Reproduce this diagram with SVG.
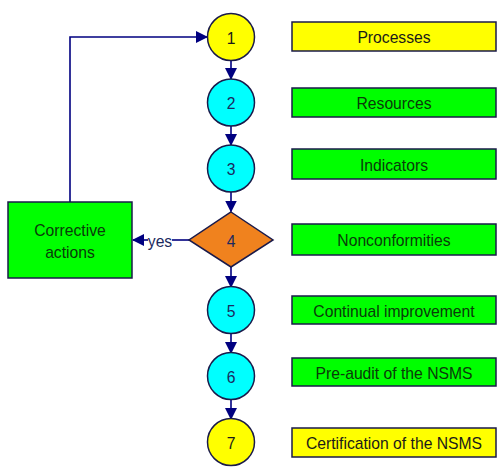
<svg xmlns="http://www.w3.org/2000/svg" width="503" height="473" viewBox="0 0 503 473">
<defs>
<marker id="ah" markerWidth="12" markerHeight="12" refX="11" refY="6" orient="auto" markerUnits="userSpaceOnUse">
<path d="M0,0 L12,6 L0,12 Z" fill="#000080"/>
</marker>
<style>
.c{stroke:#1a1a4a;stroke-width:1.5}
.y{fill:#ffff00}
.b{fill:#00ffff}
.g{fill:#00ff00}
.o{fill:#f0821e}
.t{font-family:"Liberation Sans",Arial,sans-serif;font-size:15.7px;text-anchor:middle;dominant-baseline:central;fill:#1a1a1a}
.gt{fill:#0a3a0a}
.n{font-family:"Liberation Sans",Arial,sans-serif;font-size:15.7px;text-anchor:middle;dominant-baseline:central;fill:#1a2a60}
.l{fill:none;stroke:#000080;stroke-width:1.6}
</style>
</defs>
<rect width="503" height="473" fill="#ffffff"/>
<g id="connectors">
<line class="l" x1="231" y1="60" x2="231" y2="79" marker-end="url(#ah)"/>
<line class="l" x1="231" y1="126" x2="231" y2="145" marker-end="url(#ah)"/>
<line class="l" x1="231" y1="192" x2="231" y2="211.5" marker-end="url(#ah)"/>
<line class="l" x1="231" y1="267" x2="231" y2="287" marker-end="url(#ah)"/>
<line class="l" x1="231" y1="333" x2="231" y2="353" marker-end="url(#ah)"/>
<line class="l" x1="231" y1="399" x2="231" y2="419" marker-end="url(#ah)"/>
<line class="l" x1="189" y1="240" x2="172" y2="240"/>
<line class="l" x1="148" y1="240" x2="133" y2="240" marker-end="url(#ah)"/>
<polyline class="l" points="70,202 70,37 207,37" marker-end="url(#ah)"/>
<text x="160" y="241" class="n" font-size="14">yes</text>
</g>
<g id="n1"><circle class="c y" cx="231" cy="37" r="23.5"/><text class="t" x="231" y="38">1</text></g>
<g id="n2"><circle class="c b" cx="231" cy="102.5" r="23.5"/><text class="n" x="231" y="103">2</text></g>
<g id="n3"><circle class="c b" cx="231" cy="168.5" r="23.5"/><text class="n" x="231" y="169">3</text></g>
<g id="n4"><polygon class="c o" points="231,212 273,240 231,267 189,240"/><text class="n" x="231" y="241">4</text></g>
<g id="n5"><circle class="c b" cx="231" cy="310" r="23.5"/><text class="n" x="231" y="311">5</text></g>
<g id="n6"><circle class="c b" cx="231" cy="376" r="23.5"/><text class="n" x="231" y="377">6</text></g>
<g id="n7"><circle class="c y" cx="231" cy="442" r="23.5"/><text class="t" x="231" y="443">7</text></g>
<g id="corrective"><rect class="c g" x="8" y="202" width="124" height="76"/><text class="t gt" x="70" y="230">Corrective</text><text class="t gt" x="70" y="252">actions</text></g>
<g id="processes"><rect class="c y" x="292" y="22" width="204" height="29"/><text class="t" x="394" y="37">Processes</text></g>
<g id="resources"><rect class="c g" x="292" y="88" width="204" height="29"/><text class="t gt" x="394" y="103">Resources</text></g>
<g id="indicators"><rect class="c g" x="292" y="149" width="204" height="30"/><text class="t gt" x="394" y="165">Indicators</text></g>
<g id="nonconformities"><rect class="c g" x="292" y="224" width="204" height="31"/><text class="t gt" x="394" y="240">Nonconformities</text></g>
<g id="continual"><rect class="c g" x="292" y="296" width="204" height="28"/><text class="t gt" x="394" y="311">Continual improvement</text></g>
<g id="preaudit"><rect class="c g" x="292" y="358" width="204" height="28"/><text class="t gt" x="394" y="373">Pre-audit of the NSMS</text></g>
<g id="certification"><rect class="c y" x="292" y="428" width="204" height="29"/><text class="t" x="394" y="443">Certification of the NSMS</text></g>
</svg>
